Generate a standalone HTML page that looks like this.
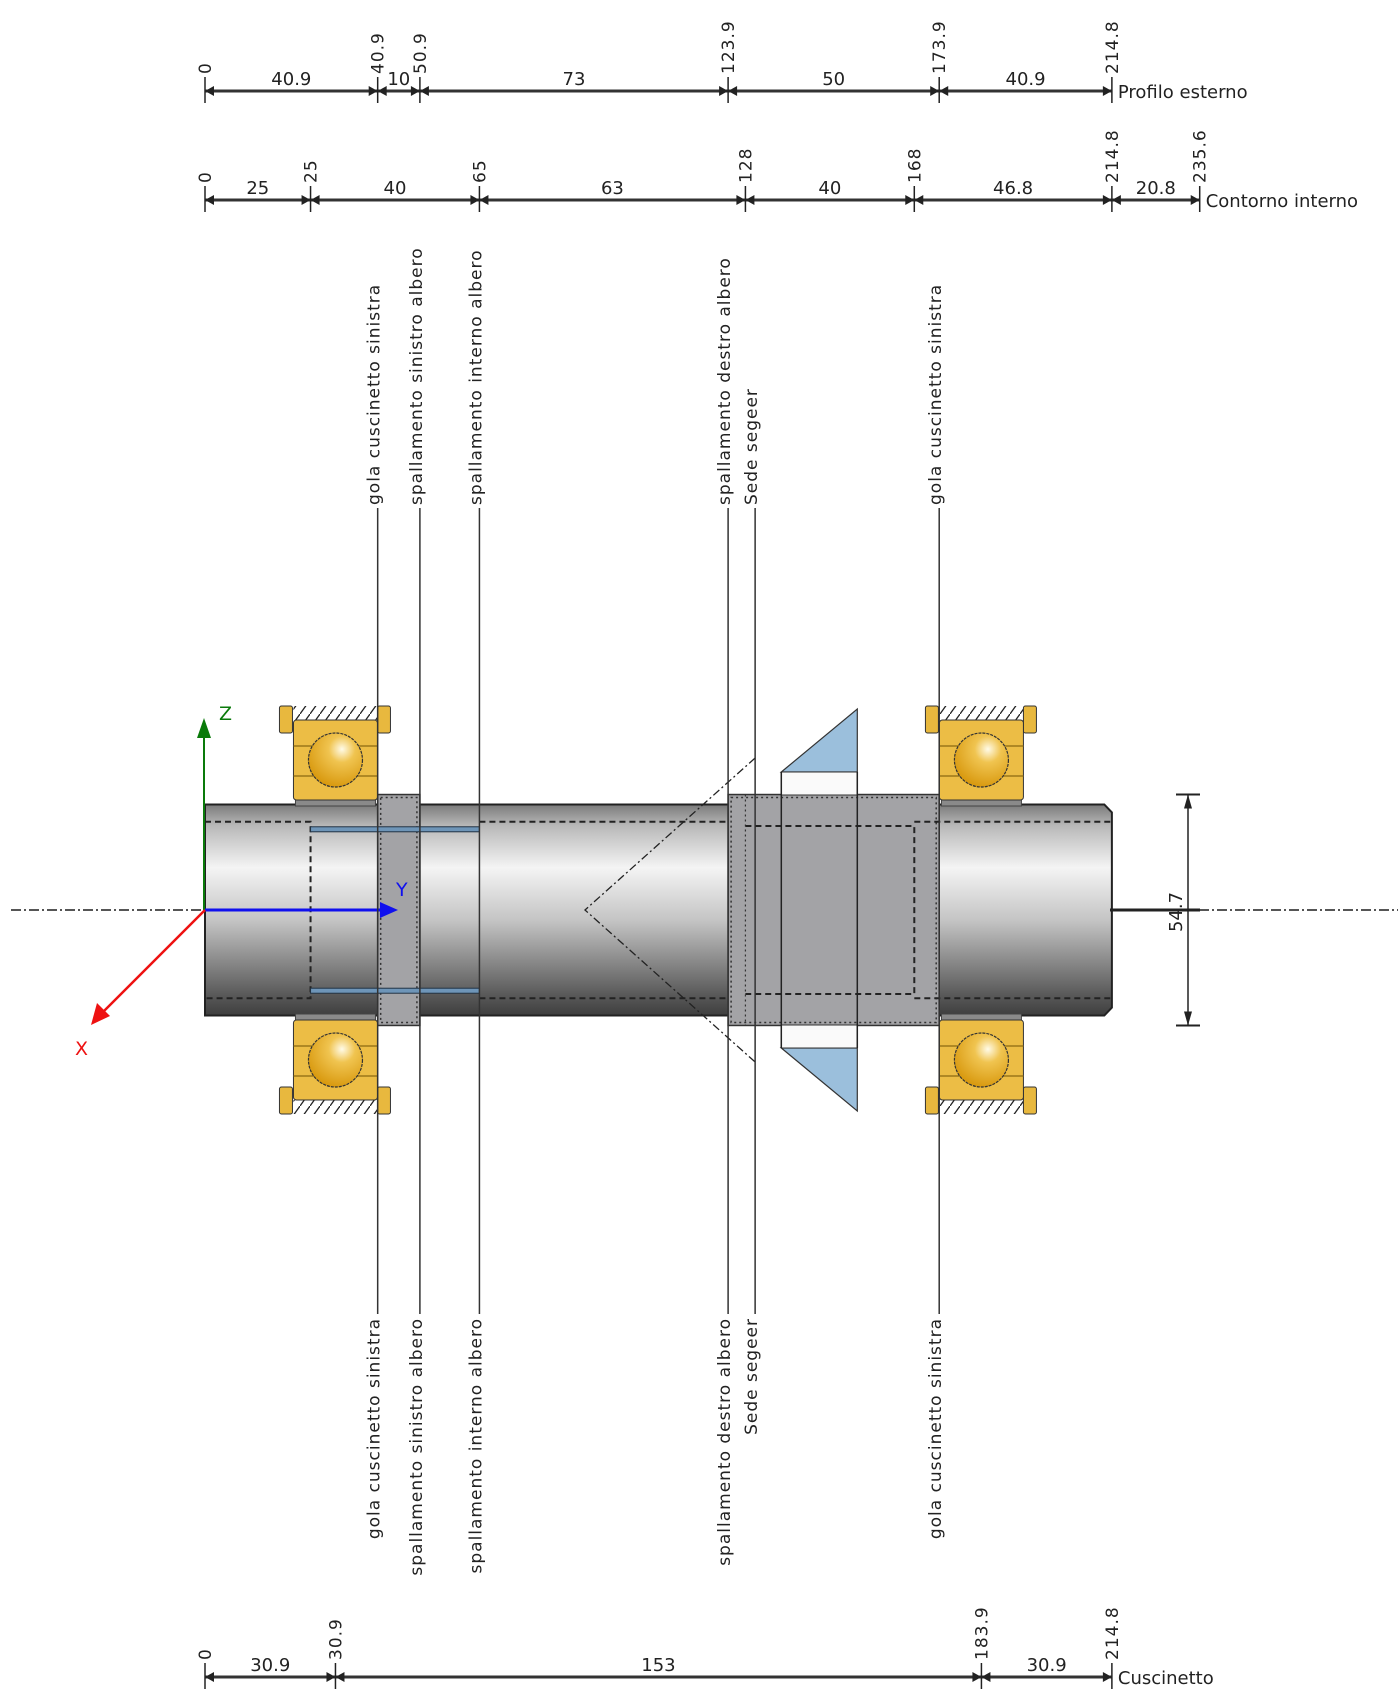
<!DOCTYPE html>
<html><head><meta charset="utf-8"><style>
html,body{margin:0;padding:0;background:#fff;}
svg{display:block;font-family:"DejaVu Sans","Liberation Sans",sans-serif;}
</style></head><body>
<svg id="chart" width="1398" height="1692" viewBox="0 0 1398 1692" xmlns="http://www.w3.org/2000/svg">
<defs>
<linearGradient id="shaftG" x1="0" y1="0" x2="0" y2="1">
<stop offset="0" stop-color="#7a7a7a"/><stop offset="0.1" stop-color="#b8b8b8"/><stop offset="0.3" stop-color="#f4f4f4"/><stop offset="0.55" stop-color="#c4c4c4"/><stop offset="0.9" stop-color="#5a5a5a"/><stop offset="1" stop-color="#3e3e3e"/>
</linearGradient>
<radialGradient id="ballG" cx="0.62" cy="0.3" r="0.7">
<stop offset="0" stop-color="#fffbe8"/><stop offset="0.35" stop-color="#f0c450"/><stop offset="1" stop-color="#d99a10"/>
</radialGradient>
<pattern id="hatch" width="10" height="14" patternUnits="userSpaceOnUse"><path d="M0 14 L10 0" stroke="#222" stroke-width="1.3"/></pattern>
</defs>
<g id="geom"></g>
<g id="dims"></g>
<g id="labels"></g>
</svg>
<script>
// ---- data ----
const profileTicks = [0, 40.9, 50.9, 123.9, 173.9, 214.8];
const profileTickLabels = ["0", "40.9", "50.9", "123.9", "173.9", "214.8"];
const internalTicks = [0, 25, 65, 128, 168, 214.8, 235.6];
const internalTickLabels = ["0", "25", "65", "128", "168", "214.8", "235.6"];
const bearingTicks = [0, 30.9, 183.9, 214.8];
const bearingTickLabels = ["0", "30.9", "183.9", "214.8"];
const featurePositions = [40.9, 50.9, 65, 123.9, 130.3, 173.9];
const featureNames = ["gola cuscinetto sinistra", "spallamento sinistro albero", "spallamento interno albero", "spallamento destro albero", "Sede segeer", "gola cuscinetto sinistra"];
const bearingCenters = [30.9, 183.9];
const diameterValue = 54.7;

const NS = "http://www.w3.org/2000/svg";
const X0 = 205, K = 4.222, CY = 910;
const sx = mm => X0 + mm * K;
const sr = mm => mm * K;
function mk(parent, tag, attrs, text) {
  const e = document.createElementNS(NS, tag);
  for (const k in attrs) e.setAttribute(k, attrs[k]);
  if (text !== undefined) e.textContent = text;
  parent.appendChild(e);
  return e;
}
const G = document.getElementById("geom");
const D = document.getElementById("dims");
const L = document.getElementById("labels");

let cl = mk(G, "line", {x1: 11, y1: CY, x2: 1398, y2: CY, stroke: "#555", "stroke-width": 2, "stroke-dasharray": "10 3 2 3"});



const R = sr(25), RC = sr(27.35);
let shaft = mk(G, "path", {d: `M${sx(0)} ${CY-R} L${sx(213)} ${CY-R} L${sx(214.8)} ${CY-R+8} L${sx(214.8)} ${CY+R-8} L${sx(213)} ${CY+R} L${sx(0)} ${CY+R} Z`, fill: "url(#shaftG)", stroke: "#222", "stroke-width": 2});


function collar(a, b, name) {
  let c = mk(G, "rect", {x: sx(a), y: CY-RC, width: sx(b)-sx(a), height: 2*RC, fill: "#a3a3a6", stroke: "#333", "stroke-width": 1.5});
  
  
  mk(G, "rect", {x: sx(a)+3, y: CY-RC+3, width: sx(b)-sx(a)-6, height: 2*RC-6, fill: "none", stroke: "#333", "stroke-width": 1.5, "stroke-dasharray": "2 3"});
}
collar(40.9, 50.9, "left-collar");
collar(123.9, 173.9, "right-collar");
mk(G, "line", {x1: sx(128), y1: CY-RC, x2: sx(128), y2: CY+RC, stroke: "#333", "stroke-width": 1.2, "stroke-dasharray": "2 3"});
const ri1 = sr(20.9), ri2 = sr(19), ri3 = sr(19.9);
mk(G, "path", {d: `M${sx(0)} ${CY-ri1} L${sx(25)} ${CY-ri1} L${sx(25)} ${CY+ri1} L${sx(0)} ${CY+ri1}`, fill: "none", stroke: "#222", "stroke-width": 2, "stroke-dasharray": "6 4"});
mk(G, "line", {x1: sx(65), y1: CY-ri1, x2: sx(123.9), y2: CY-ri1, stroke: "#222", "stroke-width": 2, "stroke-dasharray": "6 4"});
mk(G, "line", {x1: sx(65), y1: CY+ri1, x2: sx(123.9), y2: CY+ri1, stroke: "#222", "stroke-width": 2, "stroke-dasharray": "6 4"});
mk(G, "path", {d: `M${sx(128)} ${CY-ri3} L${sx(168)} ${CY-ri3} L${sx(168)} ${CY+ri3} L${sx(128)} ${CY+ri3}`, fill: "none", stroke: "#222", "stroke-width": 2, "stroke-dasharray": "6 4"});
mk(G, "path", {d: `M${sx(168)} ${CY-ri1} L${sx(214.8)} ${CY-ri1} M${sx(168)} ${CY+ri1} L${sx(214.8)} ${CY+ri1}`, fill: "none", stroke: "#222", "stroke-width": 2, "stroke-dasharray": "6 4"});
mk(G, "rect", {x: sx(25), y: CY-ri2-3, width: sx(65)-sx(25), height: 5, fill: "#6e95b8", stroke: "#234", "stroke-width": 1});
mk(G, "rect", {x: sx(25), y: CY+ri2-2, width: sx(65)-sx(25), height: 5, fill: "#6e95b8", stroke: "#234", "stroke-width": 1});
mk(G, "path", {d: `M${sx(130.3)} ${CY-sr(36)} L${sx(90)} ${CY} L${sx(130.3)} ${CY+sr(36)}`, fill: "none", stroke: "#222", "stroke-width": 1.3, "stroke-dasharray": "8 3 2 3"});

const g0 = sx(136.5), g1 = sx(154.5);
function gearHalf(s, name) {
  let t = mk(G, "path", {d: `M${g0} ${CY+s*138} L${g1} ${CY+s*201} L${g1} ${CY+s*138} Z`, fill: "#9bbfdc", stroke: "#333", "stroke-width": 1.2});
  
  
  mk(G, "rect", {x: g0, y: s < 0 ? CY-138 : CY+115, width: g1-g0, height: 23, fill: "#fafafa", stroke: "#333", "stroke-width": 1});
}
gearHalf(-1, "gear-top");
gearHalf(1, "gear-bottom");
mk(G, "line", {x1: g0, y1: CY-138, x2: g0, y2: CY+138, stroke: "#222", "stroke-width": 1.5});
mk(G, "line", {x1: g1, y1: CY-138, x2: g1, y2: CY+138, stroke: "#222", "stroke-width": 1.5});

bearingCenters.forEach((c, i) => {
  const cx = sx(c);
  [-1, 1].forEach(s => {
    const g = mk(G, "g", {});
    
    
    const top = s < 0 ? 720 : CY + (CY - 800);
    const hy = s < 0 ? 706 : CY + (CY - 720);
    mk(g, "rect", {x: cx-42, y: hy, width: 84, height: 14, fill: "url(#hatch)"});
    mk(g, "rect", {x: cx-56, y: s < 0 ? 706 : CY+(CY-733), width: 13, height: 27, rx: 2, fill: "#e8b83e", stroke: "#333", "stroke-width": 1});
    mk(g, "rect", {x: cx+42, y: s < 0 ? 706 : CY+(CY-733), width: 13, height: 27, rx: 2, fill: "#e8b83e", stroke: "#333", "stroke-width": 1});
    mk(g, "rect", {x: cx-40, y: s < 0 ? 800 : CY+(CY-806), width: 80, height: 6, fill: "#8a8a8a", stroke: "#444", "stroke-width": 1});
    mk(g, "rect", {x: cx-42, y: top, width: 84, height: 80, rx: 3, fill: "#ecbd45", stroke: "#333", "stroke-width": 1});
    mk(g, "line", {x1: cx-42, y1: top+26, x2: cx+42, y2: top+26, stroke: "#8a6a10", "stroke-width": 1.2});
    mk(g, "line", {x1: cx-42, y1: top+56, x2: cx+42, y2: top+56, stroke: "#8a6a10", "stroke-width": 1.2});
    mk(g, "circle", {cx: cx, cy: s < 0 ? 760 : CY+(CY-760), r: 27, fill: "url(#ballG)", stroke: "#333", "stroke-width": 1.2, "stroke-dasharray": "3 1"});
  });
});

mk(G, "line", {x1: X0-1, y1: CY, x2: X0-1, y2: 732, stroke: "#0a7a0a", "stroke-width": 2});
mk(G, "path", {d: `M${X0-8} 738 L${X0-1} 718 L${X0+6} 738 Z`, fill: "#0a7a0a"});
mk(L, "text", {x: 219, y: 720, "font-size": 19, fill: "#0a7a0a"}, "Z");
mk(G, "line", {x1: X0, y1: CY, x2: 385, y2: CY, stroke: "#1010ee", "stroke-width": 3});
mk(G, "path", {d: `M380 ${CY-8} L398 ${CY} L380 ${CY+8} Z`, fill: "#1010ee"});
mk(L, "text", {x: 396, y: 896, "font-size": 19, fill: "#1010ee"}, "Y");
mk(G, "line", {x1: X0, y1: CY, x2: 98, y2: 1017, stroke: "#ee1111", "stroke-width": 2.5});
mk(G, "path", {d: `M91 1025 L97 1003 L110 1016 Z`, fill: "#ee1111"});
mk(L, "text", {x: 75, y: 1055, "font-size": 19, fill: "#ee1111"}, "X");

featurePositions.forEach((p, i) => {
  const x = sx(p);
  let ln = mk(G, "line", {x1: x, y1: 508, x2: x, y2: 1314, stroke: "#333", "stroke-width": 1.5});
  
  
  let t1 = mk(L, "text", {x: 0, y: 0, "font-size": 17, "letter-spacing": 1, fill: "#222", "text-anchor": "end", transform: `translate(${x+2},505) rotate(-90)`}, featureNames[i]);
  
  
  let t2 = mk(L, "text", {x: 0, y: 0, "font-size": 17, "letter-spacing": 1, fill: "#222", "text-anchor": "end", transform: `translate(${x+2},1318) rotate(-90)`}, featureNames[i]);
  
  
  // top labels: anchor at end nearest line -> use start at bottom
  t1.setAttribute('text-anchor', 'start');
});

const dx = 1188, dTop = CY - sr(diameterValue/2), dBot = CY + sr(diameterValue/2);
mk(D, "line", {x1: dx, y1: dTop, x2: dx, y2: dBot, stroke: "#222", "stroke-width": 1.5});
mk(D, "line", {x1: dx-12, y1: dTop, x2: dx+12, y2: dTop, stroke: "#222", "stroke-width": 2});
mk(D, "line", {x1: dx-12, y1: dBot, x2: dx+12, y2: dBot, stroke: "#222", "stroke-width": 2});
mk(D, "path", {d: `M${dx-4} ${dTop+14} L${dx} ${dTop} L${dx+4} ${dTop+14}Z M${dx-4} ${dBot-14} L${dx} ${dBot} L${dx+4} ${dBot-14}Z`, fill: "#222"});
mk(D, "line", {x1: 1110, y1: CY, x2: 1200, y2: CY, stroke: "#222", "stroke-width": 3});
let dt = mk(D, "text", {x: 0, y: 0, "font-size": 18, fill: "#222", "text-anchor": "middle", transform: `translate(1182,912) rotate(-90)`}, String(diameterValue));



function chain(ticks, tickLabels, y, title, name) {
  const g = mk(D, "g", {});
  
  
  const xa = sx(ticks[0]), xb = sx(ticks[ticks.length-1]);
  mk(g, "line", {x1: xa, y1: y, x2: xb, y2: y, stroke: "#333", "stroke-width": 3});
  ticks.forEach((t, i) => {
    const x = sx(t);
    mk(g, "line", {x1: x, y1: y-14, x2: x, y2: y+12, stroke: "#222", "stroke-width": 1.5});
    if (i > 0) mk(g, "path", {d: `M${x} ${y} L${x-9} ${y-5} L${x-9} ${y+5}Z`, fill: "#222"});
    if (i < ticks.length-1) mk(g, "path", {d: `M${x} ${y} L${x+9} ${y-5} L${x+9} ${y+5}Z`, fill: "#222"});
    let tl = mk(g, "text", {x: 0, y: 0, "font-size": 17, "letter-spacing": 1, fill: "#222", transform: `translate(${x+6},${y-17}) rotate(-90)`}, tickLabels[i]);
    
    
    if (i > 0) {
      const v = Math.round((t - ticks[i-1]) * 10) / 10;
      let sl = mk(g, "text", {x: (sx(ticks[i-1]) + x) / 2, y: y - 6, "font-size": 18, fill: "#222", "text-anchor": "middle"}, String(v));
      
      
    }
  });
  let tt = mk(g, "text", {x: xb + 6, y: y + 7, "font-size": 18, fill: "#222"}, title);
  
  
}
chain(profileTicks, profileTickLabels, 91, "Profilo esterno", "profile-dimension-chain");
chain(internalTicks, internalTickLabels, 200, "Contorno interno", "internal-dimension-chain");
chain(bearingTicks, bearingTickLabels, 1677, "Cuscinetto", "bearing-dimension-chain");
</script>
</body></html>
